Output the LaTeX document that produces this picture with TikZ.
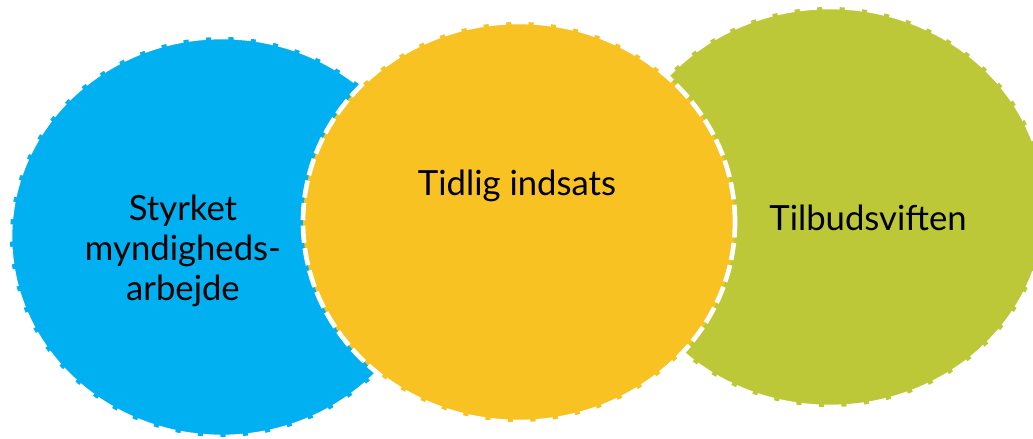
\documentclass[tikz,border=0pt]{standalone}
\usepackage{fontspec}
\setmainfont{Lato}
\usetikzlibrary{shapes.geometric}
\definecolor{cblue}{RGB}{0,176,240}
\definecolor{cyellow}{RGB}{247,194,34}
\definecolor{cgreen}{RGB}{188,200,55}
\tikzset{
  blob/.style={ellipse, inner sep=0pt, draw=white, line width=3.5pt,
    dash pattern=on 13pt off 4pt, minimum width=324pt, minimum height=300pt},
  lbl/.style={font=\fontsize{26}{30}\selectfont, text=black, align=center, inner sep=0pt}
}
\begin{document}
\begin{tikzpicture}[x=0.75pt,y=-0.75pt]
\useasboundingbox (0,0) rectangle (1033,439);
\node[blob, fill=cblue, minimum width=318pt] (b) at (222,237) {};
\node[blob, fill=cgreen] (g) at (830,207) {};
\node[blob, fill=cyellow] (y) at (519,222) {};
\node[lbl, anchor=base] (tb) at (183,300) {Styrket\\myndigheds-\\arbejde};
\node[lbl, anchor=base] (ty) at (517,195) {Tidlig indsats};
\node[lbl, anchor=base] (tg) at (868,230) {Tilbudsviften};
\end{tikzpicture}
\end{document}
